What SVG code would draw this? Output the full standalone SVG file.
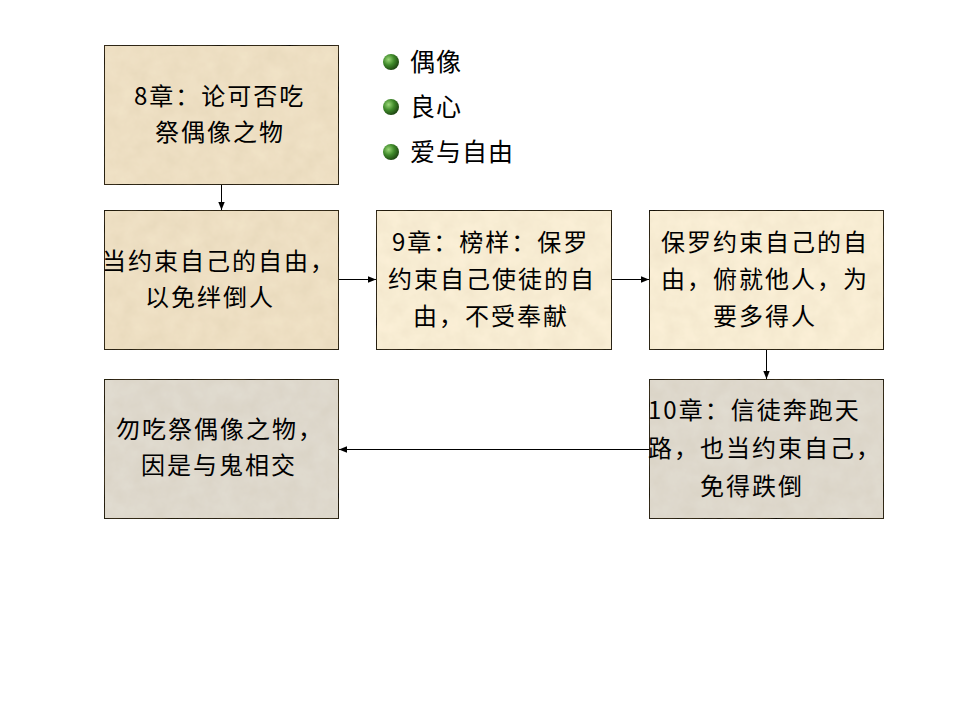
<svg xmlns="http://www.w3.org/2000/svg" width="960" height="720" viewBox="0 0 960 720">
<defs>
<filter id="tex" x="0" y="0" width="100%" height="100%">
<feTurbulence type="fractalNoise" baseFrequency="0.06" numOctaves="4" seed="3" result="n"/>
<feColorMatrix in="n" type="matrix" values="0 0 0 0 0.35  0 0 0 0 0.25  0 0 0 0 0.1  0 0 0 0.16 0" result="a"/>
<feComposite in="a" in2="SourceGraphic" operator="atop"/>
</filter>
<radialGradient id="ball" cx="0.35" cy="0.35" r="0.7">
<stop offset="0" stop-color="#9bd878"/>
<stop offset="0.5" stop-color="#3f8a2a"/>
<stop offset="1" stop-color="#1c4210"/>
</radialGradient>
<marker id="ah" viewBox="0 0 10 10" refX="10" refY="5" markerWidth="8" markerHeight="8" markerUnits="userSpaceOnUse" orient="auto">
<path d="M0,1 L10,5 L0,9 z" fill="#000"/>
</marker>
<style>
.box{stroke:#000;stroke-width:1}
.p{fill:#f2e4c8}
.c{fill:#fdf2d9}
.g{fill:#e2ddd2}
.t{font-family:"Noto Sans CJK SC","Noto Sans",sans-serif;font-size:24px;letter-spacing:2px;fill:#000}
.b{font-family:"Noto Sans CJK SC","Noto Sans",sans-serif;font-size:25px;letter-spacing:1px;fill:#000}
.ln{stroke:#000;stroke-width:1;fill:none;marker-end:url(#ah)}
</style>
</defs>
<rect width="960" height="720" fill="#fff"/>
<g id="bullets">
<circle cx="391" cy="62" r="8" fill="url(#ball)"/>
<circle cx="391" cy="107" r="8" fill="url(#ball)"/>
<circle cx="391" cy="152" r="8" fill="url(#ball)"/>
<text class="b" x="410" y="71">偶像</text>
<text class="b" x="410" y="116">良心</text>
<text class="b" x="410" y="161">爱与自由</text>
</g>
<g id="n1">
<rect class="box p" x="104.5" y="45.5" width="234" height="139" filter="url(#tex)"/>
<text class="t" x="134" y="105">8章：论可否吃</text>
<text class="t" x="155" y="141">祭偶像之物</text>
</g>
<g id="n2">
<rect class="box p" x="104.5" y="210.5" width="234" height="139" filter="url(#tex)"/>
<text class="t" x="102" y="270">当约束自己的自由，</text>
<text class="t" x="145" y="306">以免绊倒人</text>
</g>
<g id="n3">
<rect class="box c" x="376.5" y="210.5" width="235" height="139" filter="url(#tex)"/>
<text class="t" x="392" y="251">9章：榜样：保罗</text>
<text class="t" x="388" y="288">约束自己使徒的自</text>
<text class="t" x="413" y="325">由，不受奉献</text>
</g>
<g id="n4">
<rect class="box c" x="649.5" y="210.5" width="234" height="139" filter="url(#tex)"/>
<text class="t" x="661" y="251">保罗约束自己的自</text>
<text class="t" x="661" y="288">由，俯就他人，为</text>
<text class="t" x="713" y="325">要多得人</text>
</g>
<g id="n5">
<rect class="box g" x="649.5" y="379.5" width="234" height="139" filter="url(#tex)"/>
<text class="t" x="648" y="419">10章：信徒奔跑天</text>
<text class="t" x="648" y="457">路，也当约束自己，</text>
<text class="t" x="700" y="495">免得跌倒</text>
</g>
<g id="n6">
<rect class="box g" x="104.5" y="379.5" width="234" height="139" filter="url(#tex)"/>
<text class="t" x="116" y="438">勿吃祭偶像之物，</text>
<text class="t" x="141" y="474">因是与鬼相交</text>
</g>
<g id="connectors">
<line class="ln" x1="221.5" y1="185" x2="221.5" y2="210"/>
<line class="ln" x1="339" y1="279.5" x2="376" y2="279.5"/>
<line class="ln" x1="612" y1="279.5" x2="649" y2="279.5"/>
<line class="ln" x1="766.5" y1="350" x2="766.5" y2="379"/>
<line class="ln" x1="649" y1="449.5" x2="339" y2="449.5"/>
</g>
</svg>
